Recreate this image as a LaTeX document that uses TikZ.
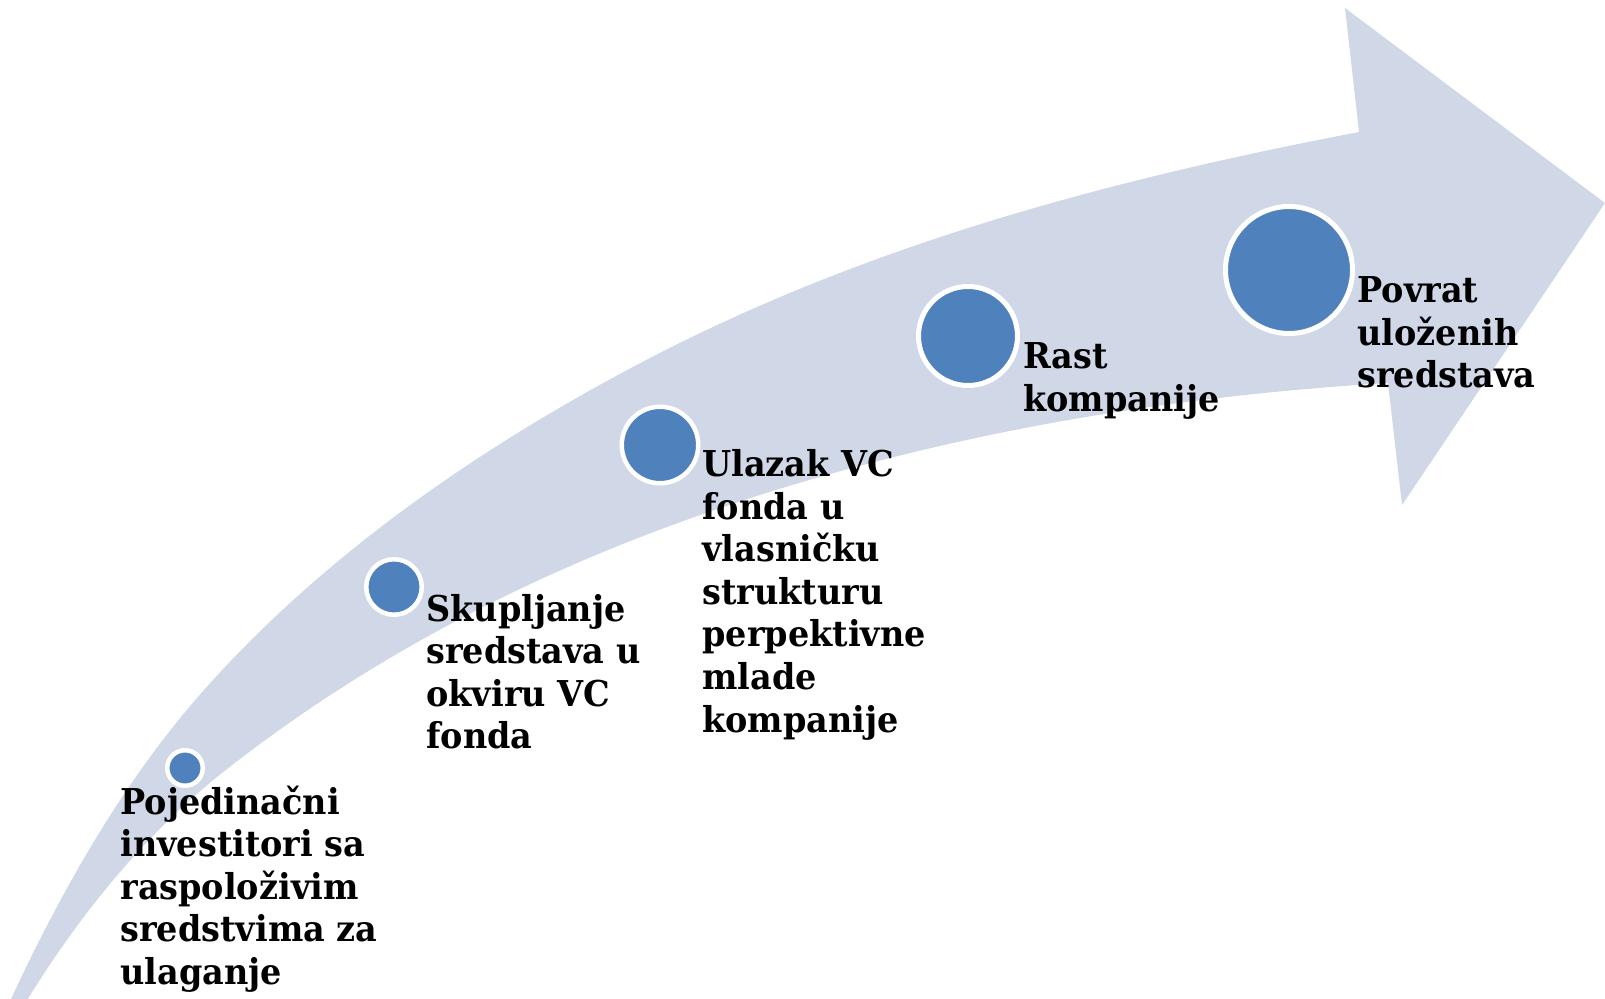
\documentclass[tikz,border=0pt]{standalone}
\usepackage{fontspec}
\setmainfont[FakeStretch=0.94]{DejaVu Serif}
\definecolor{bandfill}{HTML}{D0D8E8}
\definecolor{dotblue}{HTML}{4F81BD}
\newcommand\linesof[1]{\begin{tabular}[t]{@{}l@{}}#1\end{tabular}}
\begin{document}
\begin{tikzpicture}[x=0.5pt,y=-0.5pt,
  dot/.style 2 args={circle, fill=dotblue, draw=white, inner sep=0pt, minimum size=#1, line width=#2},
  lbl/.style={anchor=base west, inner sep=0pt, font=\bfseries\fontsize{17.8}{21.25}\selectfont}]
\useasboundingbox (0,0) rectangle (1605,999);
\clip (0,0) rectangle (1605,999);
% curved arrow
\fill[bandfill] (5,1012)
  .. controls (59,894) and (125,776) .. (213,680)
  .. controls (334,547) and (490,441) .. (650,358)
  .. controls (872,243) and (1113,179) .. (1359,132)
  -- (1345,8) -- (1605,203) -- (1402,505) -- (1388,383)
  .. controls (1138,398) and (885,444) .. (651,533)
  .. controls (496,592) and (347,673) .. (217,777)
  .. controls (139,840) and (71,926) .. (20,1012)
  -- cycle;
% circles
\node[dot={17.75pt}{2.25pt}] (c1) at (185,768) {};
\node[dot={27.75pt}{2.25pt}] (c2) at (394,587) {};
\node[dot={38.25pt}{2.25pt}] (c3) at (660,445) {};
\node[dot={49.5pt}{2.5pt}] (c4) at (968,336) {};
\node[dot={63.5pt}{2.5pt}] (c5) at (1289,270) {};
% labels
\node[lbl] (t1) at (120,814) {\linesof{Pojedinačni\\investitori sa\\raspoloživim\\sredstvima za\\ulaganje}};
\node[lbl] (t2) at (426,621) {\linesof{Skupljanje\\sredstava u\\okviru VC\\fonda}};
\node[lbl] (t3) at (702,477) {\linesof{Ulazak VC\\fonda u\\vlasničku\\strukturu\\perpektivne\\mlade\\kompanije}};
\node[lbl] (t4) at (1023,369) {\linesof{Rast\\kompanije}};
\node[lbl] (t5) at (1357,303) {\linesof{Povrat\\uloženih\\sredstava}};
\end{tikzpicture}
\end{document}
